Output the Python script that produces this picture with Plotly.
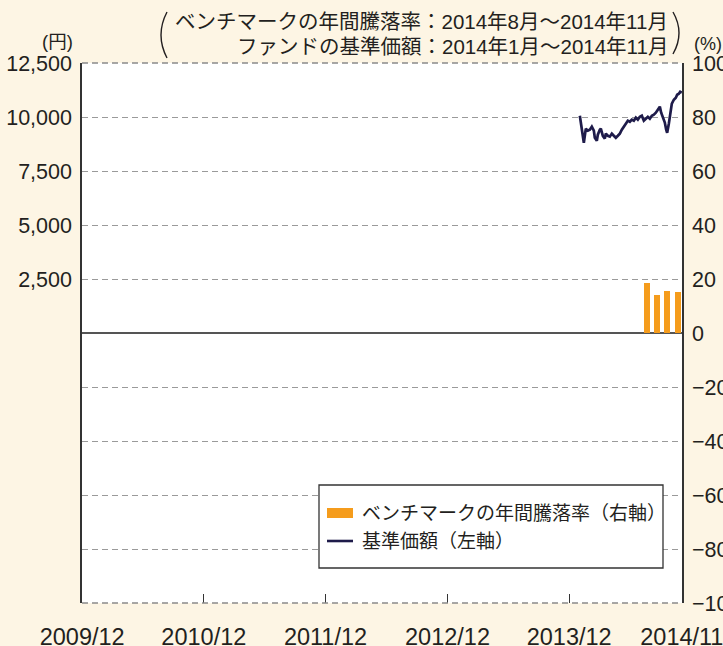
import plotly.graph_objects as go

# ---------------- data ----------------
fund_dates = [
    "2014-01-02", "2014-01-05", "2014-01-11", "2014-01-14", "2014-01-20", "2014-01-26",
    "2014-02-01", "2014-02-07", "2014-02-13", "2014-02-16", "2014-02-22", "2014-02-25",
    "2014-03-03", "2014-03-06", "2014-03-12", "2014-03-18", "2014-03-21", "2014-03-27",
    "2014-04-02", "2014-04-08", "2014-04-14", "2014-04-20", "2014-04-26", "2014-05-02",
    "2014-05-08", "2014-05-14", "2014-05-20", "2014-05-26", "2014-06-01", "2014-06-07",
    "2014-06-13", "2014-06-19", "2014-06-25", "2014-07-01", "2014-07-07", "2014-07-13",
    "2014-07-19", "2014-07-25", "2014-07-31", "2014-08-06", "2014-08-12", "2014-08-18",
    "2014-08-24", "2014-08-30", "2014-09-03", "2014-09-08", "2014-09-14", "2014-09-18",
    "2014-09-21", "2014-09-26", "2014-09-30", "2014-10-05", "2014-10-11", "2014-10-17",
    "2014-10-21", "2014-10-26", "2014-10-30", "2014-11-04",
]
fund_nav = [
    10060, 9690, 8950, 8810, 9460, 9370,
    9410, 9550, 9370, 9040, 8900, 9180,
    9410, 9460, 9130, 9000, 9230, 9130,
    9090, 9230, 9130, 9040, 9130, 9230,
    9410, 9550, 9640, 9830, 9780, 9880,
    9830, 9970, 9880, 10010, 10060, 9830,
    9920, 10010, 9920, 10060, 10110, 10200,
    10340, 10480, 10200, 9970, 9740, 9410,
    9270, 9690, 10200, 10620, 10800, 10890,
    11030, 11080, 11170, 11130,
]

bench_months = ["2014-08-01", "2014-09-01", "2014-10-01", "2014-11-01"]
bench_returns = [18.4, 14.2, 15.7, 15.3]

x_tick_dates = ["2009-12-01", "2010-12-01", "2011-12-01", "2012-12-01", "2013-12-01", "2014-11-04"]
x_tick_labels = ["2009/12", "2010/12", "2011/12", "2012/12", "2013/12", "2014/11"]
left_tick_vals = [2500, 5000, 7500, 10000, 12500]
left_tick_text = ["2,500", "5,000", "7,500", "10,000", "12,500"]
right_tick_vals = [-100, -80, -60, -40, -20, 0, 20, 40, 60, 80, 100]

legend_bar_label = "ベンチマークの年間騰落率（右軸）"
legend_line_label = "基準価額（左軸）"
header_line1 = "ベンチマークの年間騰落率：2014年8月～2014年11月"
header_line2 = "ファンドの基準価額：2014年1月～2014年11月"

# ---------------- layout helpers ----------------
W, H = 723, 646
ML, MR, MT, MB = 82, 41, 63, 43
PW, PH = W - ML - MR, H - MT - MB
FONT = "Liberation Sans, Noto Sans CJK JP, sans-serif"
TXT = "#231f20"
DAY = 86400000


def px(x):
    return (x - ML) / PW


def py(y):
    return (H - MB - y) / PH


fig = go.Figure()

fig.add_trace(go.Bar(
    x=bench_months, y=bench_returns, yaxis="y2",
    marker=dict(color="#F59C1C", line=dict(width=0)),
    width=18 * DAY, offset=-19 * DAY, showlegend=False,
))
fig.add_trace(go.Scatter(
    x=fund_dates, y=fund_nav, mode="lines",
    line=dict(color="#1E1B4A", width=2.7), showlegend=False,
))

fig.update_layout(
    width=W, height=H, autosize=False,
    margin=dict(l=ML, r=MR, t=MT, b=MB, pad=0),
    paper_bgcolor="#FDF5E4", plot_bgcolor="#FFFFFF",
    font=dict(family=FONT, color=TXT, size=19),
    showlegend=False,
    bargap=0,
    xaxis=dict(
        type="date", range=["2009-11-30 12:00", "2014-11-04 12:00"],
        tickvals=x_tick_dates, ticktext=x_tick_labels,
        ticks="inside", ticklen=9, tickcolor="#333333", tickwidth=1.2,
        showgrid=False, zeroline=False, showline=False, automargin=False,
        tickfont=dict(size=23.5, family=FONT, color=TXT),
        ticklabelstandoff=17, ticklabeloverflow="allow",
    ),
    yaxis=dict(
        range=[-12500, 12500], tickvals=left_tick_vals, ticktext=left_tick_text,
        showgrid=False, zeroline=False, showline=True, automargin=False,
        linecolor="#333333", linewidth=1.5, ticks="",
        tickfont=dict(size=21.5, family=FONT, color=TXT),
        ticklabelstandoff=4,
    ),
    yaxis2=dict(
        overlaying="y", side="right", range=[-100, 100],
        tickvals=right_tick_vals, automargin=False,
        showgrid=True, gridcolor="#9a9a9a", gridwidth=1.2, griddash="6px,4px",
        zeroline=True, zerolinecolor="#555555", zerolinewidth=1.6,
        showline=True, linecolor="#333333", linewidth=1.5, ticks="",
        tickfont=dict(size=21.5, family=FONT, color=TXT),
        ticklabelstandoff=4, ticklabeloverflow="allow",
    ),
)

shapes = []
# top / bottom dashed borders
for yy in (0, 1):
    shapes.append(dict(type="line", xref="paper", yref="paper", x0=0, x1=1, y0=yy, y1=yy,
                       line=dict(color="#8a8a8a", width=1.4, dash="6px,4px"), layer="above"))
# header brackets
shapes.append(dict(type="path", xref="paper", yref="paper",
                   path=f"M {px(167)},{py(12)} Q {px(155)},{py(35)} {px(167)},{py(58)}",
                   line=dict(color=TXT, width=1.4)))
shapes.append(dict(type="path", xref="paper", yref="paper",
                   path=f"M {px(673)},{py(12)} Q {px(685)},{py(33)} {px(673)},{py(54)}",
                   line=dict(color=TXT, width=1.4)))
# legend box
shapes.append(dict(type="rect", xref="paper", yref="paper",
                   x0=px(319), x1=px(663), y0=py(568), y1=py(485),
                   fillcolor="#FFFFFF", line=dict(color="#333333", width=1.3), layer="above"))
shapes.append(dict(type="rect", xref="paper", yref="paper",
                   x0=px(327), x1=px(353), y0=py(518), y1=py(508),
                   fillcolor="#F59C1C", line=dict(width=0), layer="above"))
shapes.append(dict(type="line", xref="paper", yref="paper",
                   x0=px(327), x1=px(353), y0=py(541), y1=py(541),
                   line=dict(color="#1E1B4A", width=2.6), layer="above"))
fig.update_layout(shapes=shapes)

ann = [
    dict(text=header_line1, x=px(670), y=py(21), xanchor="right", yanchor="middle", font=dict(size=20.5)),
    dict(text=header_line2, x=px(670), y=py(46), xanchor="right", yanchor="middle", font=dict(size=20.5)),
    dict(text="(円)", x=px(57), y=py(41), xanchor="center", yanchor="middle", font=dict(size=18.5)),
    dict(text="(%)", x=px(708), y=py(44), xanchor="center", yanchor="middle", font=dict(size=18)),
    dict(text=legend_bar_label, x=px(360), y=py(513), xanchor="left", yanchor="middle", font=dict(size=19)),
    dict(text=legend_line_label, x=px(360), y=py(541), xanchor="left", yanchor="middle", font=dict(size=19)),
]
for a in ann:
    a.update(xref="paper", yref="paper", showarrow=False)
    a["font"].update(family=FONT, color=TXT)
fig.update_layout(annotations=ann)

fig.write_html(
    "out.html",
    config={"displayModeBar": False},
    post_script="document.body.style.margin='0';document.body.style.overflow='hidden';",
)
